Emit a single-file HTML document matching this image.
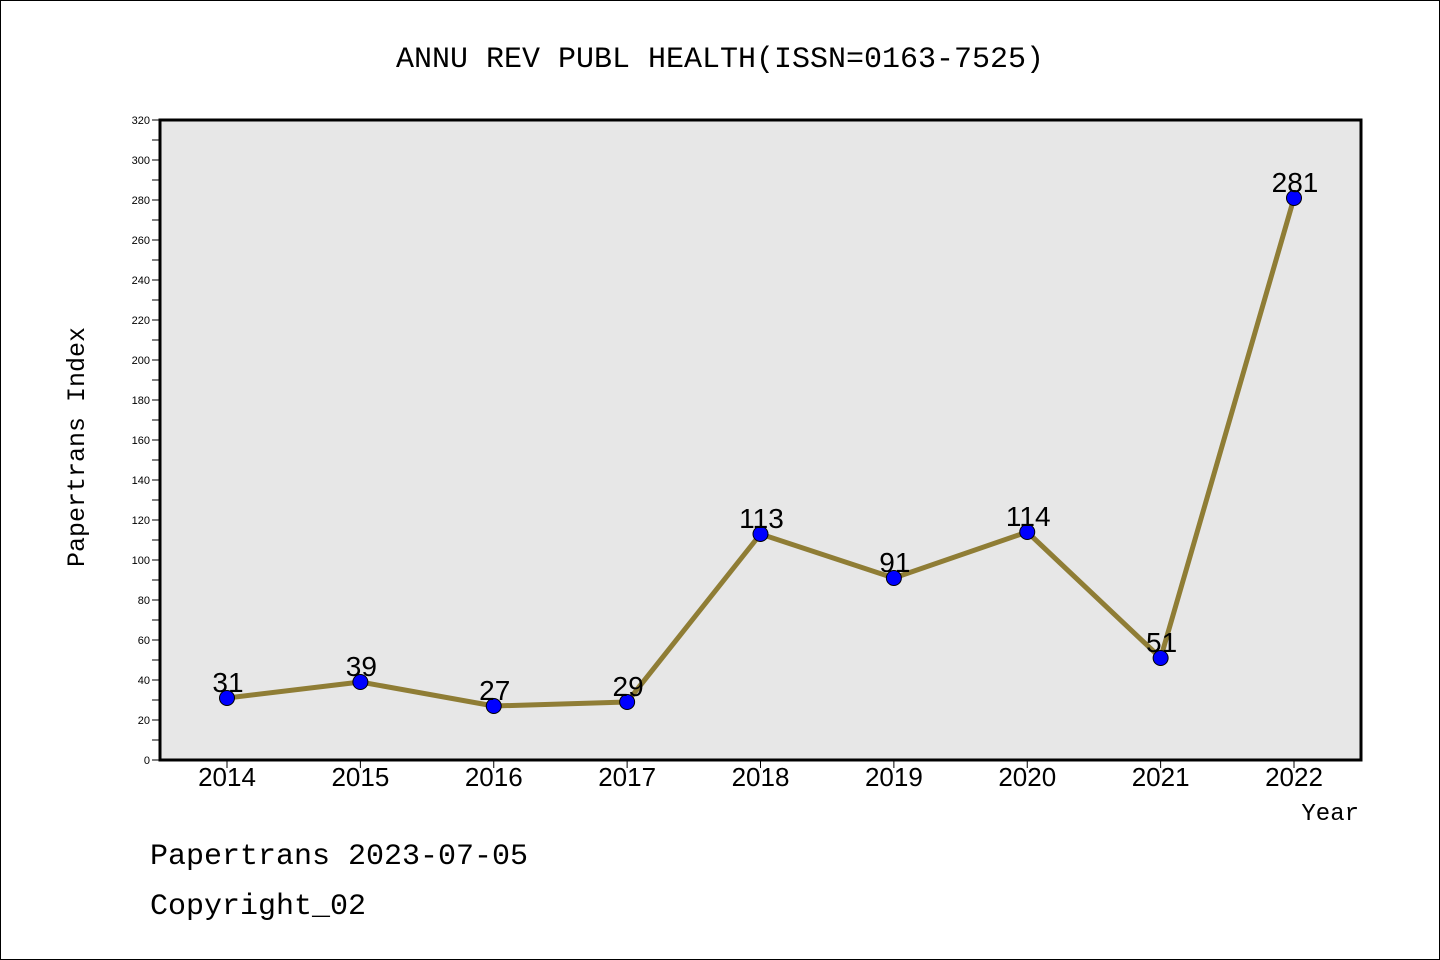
<!DOCTYPE html>
<html><head><meta charset="utf-8"><style>
body{margin:0;background:#fff}
svg{display:block}
</style></head><body>
<svg id="chart" width="1440" height="960" xmlns="http://www.w3.org/2000/svg">
<rect x="0.5" y="0.5" width="1439" height="959" fill="#fff" stroke="#000" stroke-width="1"/>
<text x="720" y="67" text-anchor="middle" font-family="Liberation Mono, monospace" font-size="30">ANNU REV PUBL HEALTH(ISSN=0163-7525)</text>
<rect x="160" y="120" width="1201" height="640" fill="#e7e7e7"/>
<g id="yaxis"></g>
<g id="xaxis"></g>
<g id="series"></g>
<rect x="160" y="120" width="1201" height="640" fill="none" stroke="#000" stroke-width="3"/>
<text transform="translate(84,447) rotate(-90)" text-anchor="middle" font-family="Liberation Mono, monospace" font-size="25">Papertrans Index</text>
<text x="1359" y="820" text-anchor="end" font-family="Liberation Mono, monospace" font-size="24">Year</text>
<text x="150" y="864" font-family="Liberation Mono, monospace" font-size="30">Papertrans 2023-07-05</text>
<text x="150" y="914" font-family="Liberation Mono, monospace" font-size="30">Copyright_02</text>
</svg>
<script>
const years = ["2014","2015","2016","2017","2018","2019","2020","2021","2022"];
const values = [31,39,27,29,113,91,114,51,281];
const yTicks = [0,20,40,60,80,100,120,140,160,180,200,220,240,260,280,300,320];
const NS="http://www.w3.org/2000/svg";
const x0=227, xStep=(1294-227)/8;
function xs(i){return x0+i*xStep;}
function ys(v){return 760-v*2;}
function mk(t,a,p){const e=document.createElementNS(NS,t);for(const k in a)e.setAttribute(k,a[k]);p.appendChild(e);return e;}
const ya=document.getElementById('yaxis');
for(let v=0;v<=320;v+=10){
  const l=mk('line',{x1:152,x2:160,y1:ys(v),y2:ys(v),stroke:'#000','stroke-width':1},ya);
  
  
}
yTicks.forEach(v=>{
  const t=mk('text',{x:150,y:ys(v)+4,'text-anchor':'end','font-family':'Liberation Sans, sans-serif','font-size':11},ya);
  t.textContent=v;
  
  
});
const xa=document.getElementById('xaxis');
years.forEach((y,i)=>{
  const l=mk('line',{x1:xs(i),x2:xs(i),y1:760,y2:768,stroke:'#000','stroke-width':1},xa);
  
  
  const t=mk('text',{x:xs(i),y:786,'text-anchor':'middle','font-family':'Liberation Sans, sans-serif','font-size':26},xa);
  t.textContent=y;
  
  
});
const s=document.getElementById('series');
const pl=mk('polyline',{points:values.map((v,i)=>xs(i)+','+ys(v)).join(' '),fill:'none',stroke:'#8f7d35','stroke-width':5,'stroke-linejoin':'round'},s);


values.forEach((v,i)=>{
  const c=mk('circle',{cx:xs(i),cy:ys(v),r:7.5,fill:'#0000ff',stroke:'#000','stroke-width':1},s);
  
  
  const t=mk('text',{x:xs(i)+1,y:ys(v)-6,'text-anchor':'middle','font-family':'Liberation Sans, sans-serif','font-size':28},s);
  t.textContent=v;
  
  
});
</script>
</body></html>
